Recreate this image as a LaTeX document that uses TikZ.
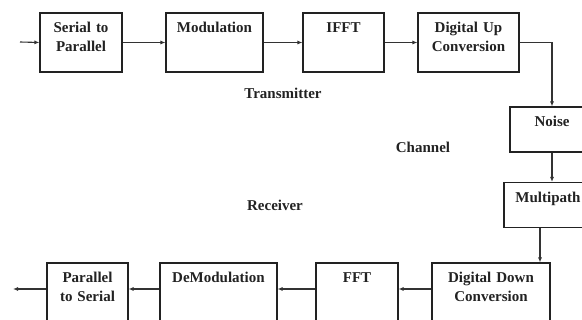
\documentclass[tikz,border=0pt]{standalone}
\usepackage{fontspec}
\setmainfont{Liberation Serif}
\usepackage{xcolor}
\usetikzlibrary{arrows.meta,positioning}
\definecolor{ink}{HTML}{222222}
\definecolor{wire}{HTML}{333333}
\tikzset{
  font=\fontsize{15}{19}\selectfont\bfseries,
  >={Latex[length=5pt,width=4pt]},
  blk/.style={
    draw=ink, line width=1.1pt, fill=white, text=ink, align=center,
    inner xsep=0pt, inner ysep=0pt, text height=20pt
  },
  toprow/.style={blk, text depth=39pt},
  chanbox/.style={blk, text depth=25pt},
  botrow/.style={blk, text depth=42pt},
  flow/.style={->, line width=1.1pt, draw=wire},
  section/.style={text=ink, inner sep=1pt}
}

\begin{document}
\begin{tikzpicture}[x=1pt,y=-1pt]
  \useasboundingbox (0,0) rectangle (582,320);

  % transmitter chain
  \node[toprow, text width=82pt]  (s2p)   at (81,42.5)    {Serial to\\Parallel};
  \node[toprow, text width=97pt]  (mod)   at (214.5,42.5) {Modulation};
  \node[toprow, text width=81pt]  (ifft)  at (343.5,42.5) {IFFT};
  \node[toprow, text width=101pt] (duc)   at (468.5,42.5) {Digital Up\\Conversion};

  % channel
  \node[chanbox, text width=84pt] (noise) at (552,129.5)  {Noise};
  \node[chanbox, text width=88pt] (multi) at (548,205)    {Multipath};

  % receiver chain
  \node[botrow, text width=118pt] (ddc)   at (491,294)    {Digital Down\\Conversion};
  \node[botrow, text width=82pt]  (fft)   at (357,294)    {FFT};
  \node[botrow, text width=117pt] (demod) at (218.5,294)  {DeModulation};
  \node[botrow, text width=81pt]  (p2s)   at (87.5,294)   {Parallel\\to Serial};

  \coordinate (in)  at (20,42);
  \coordinate (out) at (13,289);

  % top path
  \draw[flow] (in) -- (s2p.west);
  \draw[flow] (s2p) -- (mod);
  \draw[flow] (mod) -- (ifft);
  \draw[flow] (ifft) -- (duc);

  % down through the channel
  \draw[flow] (duc.east) -| (noise.north);
  \draw[flow] (noise.south) -- (noise.south |- multi.north);
  \draw[flow] ([xshift=-8pt]multi.south) -- ([xshift=-8pt]multi.south |- ddc.north);

  % bottom path
  \draw[flow] ([yshift=5pt]ddc.west) -- ([yshift=5pt]fft.east);
  \draw[flow] ([yshift=5pt]fft.west) -- ([yshift=5pt]demod.east);
  \draw[flow] ([yshift=5pt]demod.west) -- ([yshift=5pt]p2s.east);
  \draw[flow] ([yshift=5pt]p2s.west) -- (out);

  % section names
  \node[section] (tx) at (283,93)  {Transmitter};
  \node[section] (ch) at (423,147) {Channel};
  \node[section] (rx) at (275,205) {Receiver};
\end{tikzpicture}
\end{document}
